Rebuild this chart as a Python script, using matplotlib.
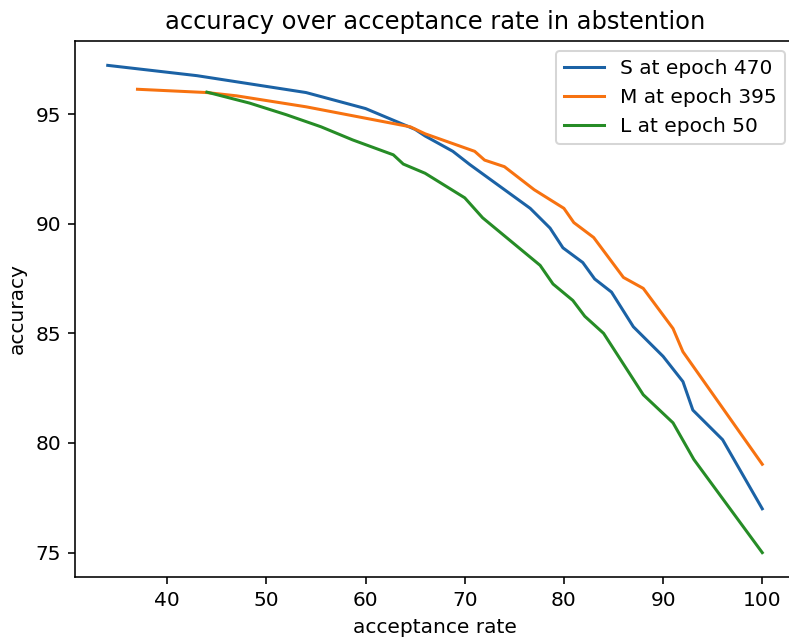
import numpy as np
import matplotlib.pyplot as plt

# accuracy vs. acceptance rate for the three model sizes
s_rate = [34, 43, 54, 60, 65, 66, 68.8, 70.5, 76.6, 78.6, 79.9, 81.9, 83.1, 84.8, 87, 90, 92, 93, 96, 100]
s_acc = [97.22, 96.75, 95.98, 95.25, 94.3, 94.0, 93.3, 92.7, 90.7, 89.8, 88.9, 88.23, 87.48, 86.88, 85.3, 83.95, 82.8, 81.5, 80.15, 77.0]

m_rate = [37, 44, 47, 54, 57, 64.5, 66, 71, 72, 74, 77, 80, 81, 83, 86, 88, 91, 92, 100]
m_acc = [96.13, 95.98, 95.83, 95.33, 95.07, 94.42, 94.1, 93.3, 92.9, 92.6, 91.55, 90.7, 90.05, 89.37, 87.55, 87.05, 85.22, 84.16, 79.03]

l_rate = [44, 48.3, 52, 55.5, 58.7, 62.8, 63.8, 66, 70, 71.8, 77.6, 78.9, 80.9, 82.1, 84, 88, 91, 93.1, 100]
l_acc = [96.0, 95.5, 94.97, 94.42, 93.82, 93.14, 92.72, 92.3, 91.18, 90.27, 88.1, 87.25, 86.5, 85.78, 85.0, 82.2, 80.92, 79.25, 75.0]

dpi = 145
fig = plt.figure(figsize=(789 / dpi, 637 / dpi), dpi=dpi)
ax = fig.add_axes([75 / 789, 1 - 577 / 637, 720 / 789, 536 / 637])

ax.plot(s_rate, s_acc, color='#1b62a5', label='S at epoch 470')
ax.plot(m_rate, m_acc, color='#f77210', label='M at epoch 395')
ax.plot(l_rate, l_acc, color='#268c26', label='L at epoch 50')

# right edge of the frame falls outside the canvas
ax.spines['right'].set_visible(False)

ax.set_title('accuracy over acceptance rate in abstention')
ax.set_xlabel('acceptance rate')
ax.set_ylabel('accuracy')
ax.legend(loc='upper right')

fig.savefig('out.png', dpi=dpi)
